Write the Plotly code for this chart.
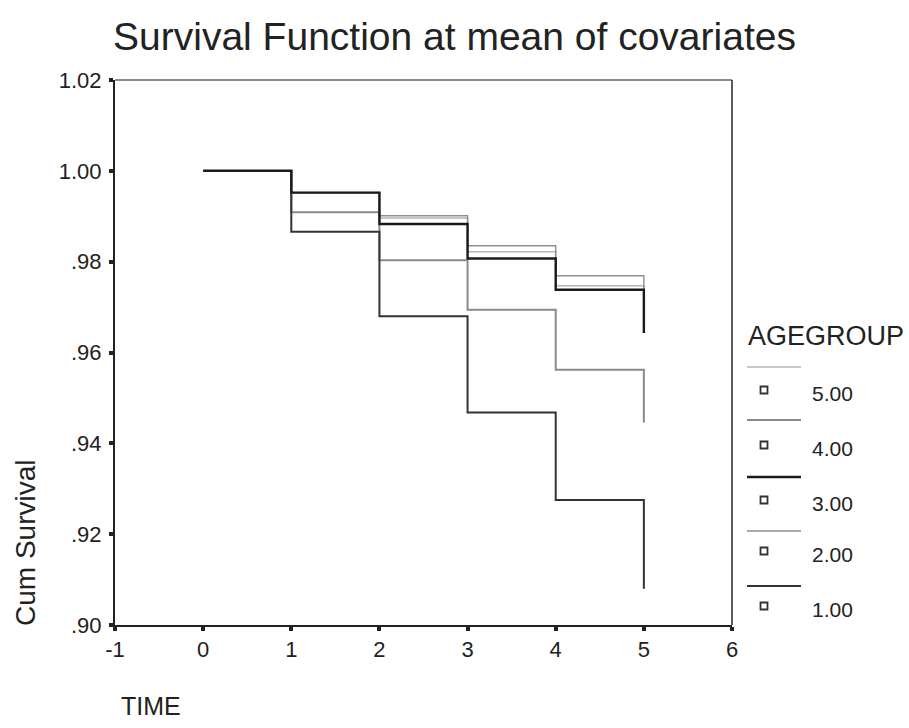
import plotly.graph_objects as go

# ---- data ----
time = [0, 1, 2, 3, 4, 5]
groups = ["5.00", "4.00", "3.00", "2.00", "1.00"]
surv_5 = [1.0, 0.9952, 0.9896, 0.9822, 0.9747, 0.9660]
surv_4 = [1.0, 0.9909, 0.9803, 0.9694, 0.9562, 0.9446]
surv_3 = [1.0, 0.9952, 0.9883, 0.9807, 0.9738, 0.9643]
surv_2 = [1.0, 0.9952, 0.9901, 0.9835, 0.9769, 0.9670]
surv_1 = [1.0, 0.9866, 0.9680, 0.9468, 0.9275, 0.9080]
x_ticks = [-1, 0, 1, 2, 3, 4, 5, 6]
x_ticklabels = ["-1", "0", "1", "2", "3", "4", "5", "6"]
y_ticks = [0.90, 0.92, 0.94, 0.96, 0.98, 1.00, 1.02]
y_ticklabels = [".90", ".92", ".94", ".96", ".98", "1.00", "1.02"]

series = {"5.00": surv_5, "4.00": surv_4, "3.00": surv_3, "2.00": surv_2, "1.00": surv_1}
styles = {
    "5.00": dict(color="#b4b4b4", width=1.6),
    "4.00": dict(color="#8a8a8a", width=2.0),
    "3.00": dict(color="#1a1a1a", width=2.4),
    "2.00": dict(color="#8f8f8f", width=1.4),
    "1.00": dict(color="#333333", width=2.0),
}

W, H = 909, 728
L, R, T, B = 115, 732, 80, 625
FONT = "Liberation Sans, Arial, sans-serif"

def px(xp):
    return (xp - L) / (R - L)

def py(yp):
    return (B - yp) / (B - T)

fig = go.Figure()
draw_order = ["4.00", "1.00", "5.00", "2.00", "3.00"]
for g in draw_order:
    fig.add_trace(go.Scatter(x=time, y=series[g], mode="lines", line_shape="hv",
                             line=styles[g], name=g, showlegend=False, hoverinfo="skip"))

shapes = []
annotations = []
# lighter top / right frame lines
shapes.append(dict(type="line", xref="paper", yref="paper", x0=0, x1=1, y0=1, y1=1,
                   line=dict(color="#666", width=1.5)))
shapes.append(dict(type="line", xref="paper", yref="paper", x0=1, x1=1, y0=0, y1=1,
                   line=dict(color="#333", width=1.6)))
# custom SPSS-style legend
annotations.append(dict(text="AGEGROUP", xref="paper", yref="paper", x=px(746), y=py(336),
                        xanchor="left", yanchor="middle", showarrow=False,
                        font=dict(family=FONT, size=27, color="#222")))
line_y = [367, 420, 477, 531, 586]
sq_y = [390, 445, 500, 551, 606]
for g, ly, sy in zip(groups, line_y, sq_y):
    shapes.append(dict(type="line", xref="paper", yref="paper", x0=px(747), x1=px(801),
                       y0=py(ly), y1=py(ly), line=dict(color=styles[g]["color"], width=styles[g]["width"])))
    shapes.append(dict(type="rect", xref="paper", yref="paper", x0=px(760.5), x1=px(767.5),
                       y0=py(sy + 3.5), y1=py(sy - 3.5), line=dict(color="#333", width=1.8),
                       fillcolor="white"))
    annotations.append(dict(text=g, xref="paper", yref="paper", x=px(810), y=py(sy + 3),
                            xanchor="left", yanchor="middle", showarrow=False,
                            font=dict(family=FONT, size=21, color="#222")))

annotations.append(dict(text="Cum Survival", xref="paper", yref="paper", x=px(25), y=py(543),
                        xanchor="center", yanchor="middle", textangle=-90, showarrow=False,
                        font=dict(family=FONT, size=28, color="#222")))
annotations.append(dict(text="TIME", xref="paper", yref="paper", x=px(119), y=py(706),
                        xanchor="left", yanchor="middle", showarrow=False,
                        font=dict(family=FONT, size=25, color="#222")))

fig.update_layout(
    width=W, height=H,
    margin=dict(l=L, r=W - R, t=T, b=H - B),
    paper_bgcolor="white", plot_bgcolor="white",
    title=dict(text="Survival Function at mean of covariates", x=0.5, xanchor="center",
               y=1 - 36 / H, yanchor="middle", font=dict(family=FONT, size=39, color="#222")),
    shapes=shapes, annotations=annotations,
    showlegend=False,
)
fig.update_xaxes(range=[-1, 6], tickvals=x_ticks, ticktext=x_ticklabels, ticks="outside",
                 ticklen=4, tickwidth=4, tickcolor="#222", showgrid=False, zeroline=False,
                 showline=True, linecolor="#222", linewidth=2, mirror=False,
                 tickfont=dict(family=FONT, size=22, color="#222"))
fig.update_yaxes(range=[0.9, 1.02], tickvals=y_ticks, ticktext=y_ticklabels, ticks="outside",
                 ticklen=4, tickwidth=4, tickcolor="#222", showgrid=False, zeroline=False,
                 showline=True, linecolor="#222", linewidth=2, mirror=False, ticklabelstandoff=3,
                 tickfont=dict(family=FONT, size=22, color="#222"))

fig.write_html("out.html")
